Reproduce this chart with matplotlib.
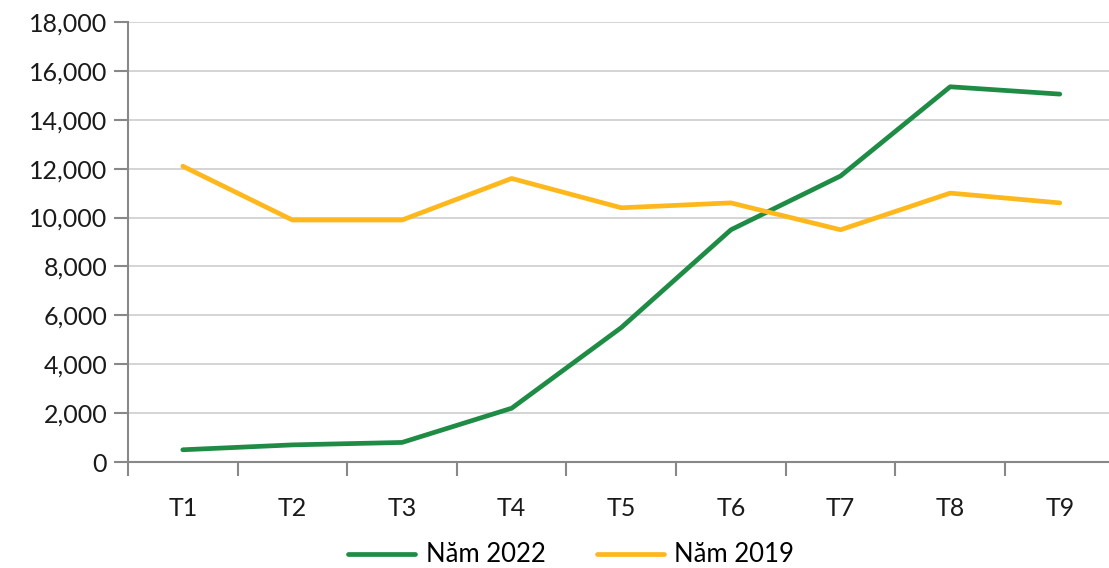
import matplotlib.pyplot as plt
from matplotlib.ticker import FuncFormatter, FixedLocator

plt.rcParams['font.family'] = ['Lato', 'DejaVu Sans']

# data
months = ["T1", "T2", "T3", "T4", "T5", "T6", "T7", "T8", "T9"]
nam_2022 = [500, 700, 800, 2200, 5500, 9500, 11700, 15350, 15050]
nam_2019 = [12100, 9900, 9900, 11600, 10400, 10600, 9500, 11000, 10600]

fig = plt.figure(figsize=(11.09, 5.68), dpi=100)
ax = fig.add_axes([128 / 1109, 1 - 462 / 568, 986.6 / 1109, 440 / 568])

x = range(len(months))
ax.plot(x, nam_2022, color='#1E8C45', lw=3.4, label='Năm 2022', solid_capstyle='round')
ax.plot(x, nam_2019, color='#FFB81C', lw=3.4, label='Năm 2019', solid_capstyle='round')

ax.set_xlim(-0.5, len(months) - 0.5)
ax.set_ylim(0, 18000)
ax.set_yticks(range(0, 18001, 2000))
ax.yaxis.set_major_formatter(FuncFormatter(lambda v, p: f"{int(v):,}"))
ax.grid(axis='y', color='#D4D4D4', lw=1.4)
ax.set_axisbelow(True)

ax.set_xticks(list(x))
ax.set_xticklabels(months)
ax.xaxis.set_minor_locator(FixedLocator([i - 0.5 for i in range(len(months) + 1)]))
ax.tick_params(axis='x', which='major', length=0, pad=25, labelsize=18, colors='#1a1a1a')
ax.tick_params(axis='x', which='minor', length=10, width=1.5, color='#888888')
ax.tick_params(axis='y', length=10, width=1.5, color='#888888', labelsize=18, pad=5, labelcolor='#1a1a1a')

for s in ['top', 'right']:
    ax.spines[s].set_visible(False)
for s in ['left', 'bottom']:
    ax.spines[s].set_color('#888888')
    ax.spines[s].set_linewidth(1.5)

fig.legend(loc='center', bbox_to_anchor=(0.515, 1 - 555 / 568), ncol=2, frameon=False,
           fontsize=18.5, handlelength=2.6, columnspacing=2.0, handletextpad=0.4,
           borderpad=0.1)

fig.savefig('out.png', dpi=100)
